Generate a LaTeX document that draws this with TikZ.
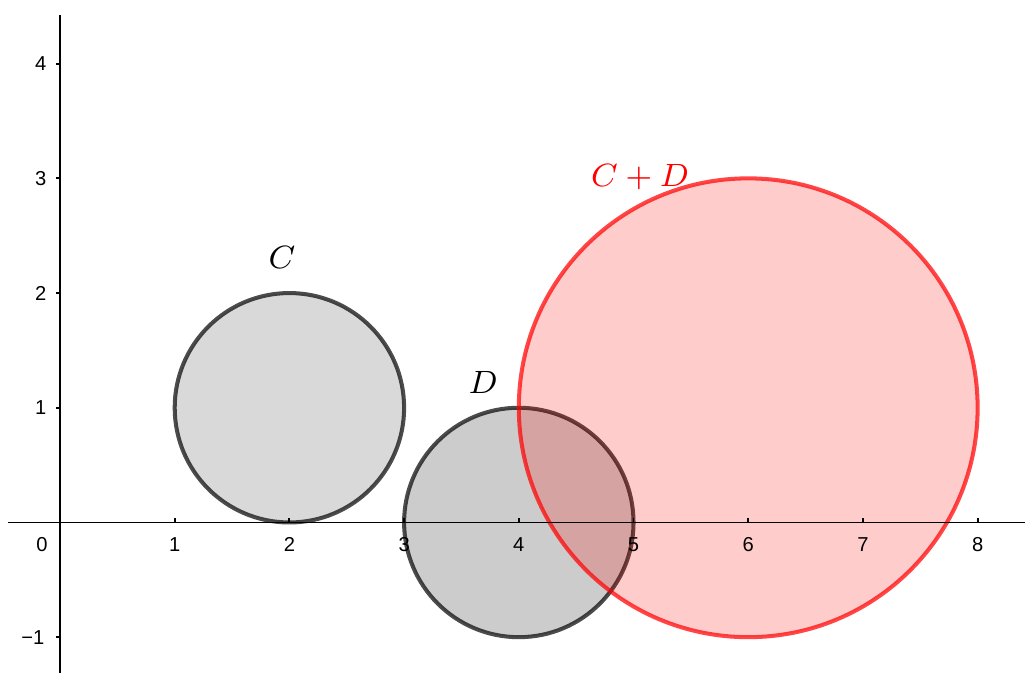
\documentclass[tikz,border=0pt]{standalone}
\usepackage{fontspec}
\newfontfamily\axfont{Liberation Sans}
\begin{document}
\begin{tikzpicture}[x=1cm,y=1cm,
  axis/.style={line width=0.45pt,black},
  tick/.style={line width=0.45pt,black},
  ticklab/.style={font=\axfont\fontsize{5}{6}\selectfont,inner sep=0pt},
  graycirc/.style={line width=1pt,draw=black,draw opacity=0.7},
  lab/.style={font=\fontsize{7.8}{9}\selectfont,inner sep=0pt}]
\useasboundingbox (-0.523,-1.309) rectangle (8.413,4.555);
% circles
\fill[black,fill opacity=0.15] (2,1) circle (1);
\draw[graycirc] (2,1) circle (1);
\fill[black,fill opacity=0.2] (4,0) circle (1);
\draw[graycirc] (4,0) circle (1);
\fill[red,fill opacity=0.2] (6,1) circle (2);
\draw[red,draw opacity=0.72,line width=1pt] (6,1) circle (2);
% axes
\coordinate (xs) at (-0.453,0);
\coordinate (xe) at (8.413,0);
\coordinate (ys) at (0,-1.309);
\coordinate (ye) at (0,4.424);
\draw[axis] (xs) -- (xe);
\draw[axis] (ys) -- (ye);
\foreach \i in {1,...,8} {
  \draw[tick] (\i,0) -- (\i,0.035);
  \node[ticklab] (xl\i) at (\i,-0.19) {\i};
}
\node[ticklab] (xl0) at (-0.157,-0.19) {0};
\foreach \j in {1,...,4} {
  \draw[tick] (0,\j) -- (-0.035,\j);
  \node[ticklab,anchor=east] (yl\j) at (-0.113,\j) {\j};
}
\draw[tick] (0,-1) -- (-0.035,-1);
\node[ticklab,anchor=east] (ylm1) at (-0.13,-1) {−1};
% labels
\node[lab] (labC) at (1.935,2.31) {$C$};
\node[lab] (labD) at (3.688,1.22) {$D$};
\node[lab,text=red] (labCD) at (5.057,3.01) {$C+D$};
\end{tikzpicture}
\end{document}
